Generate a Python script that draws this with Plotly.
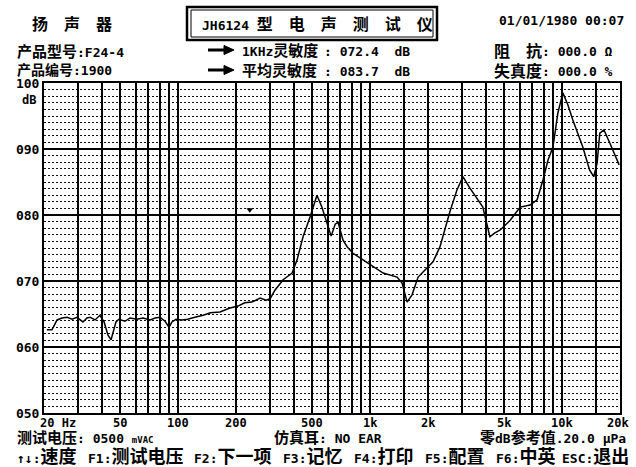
import numpy as np
import plotly.graph_objects as go

# ---------------- data ----------------
freq_hz = [20.7, 22.0, 23.4, 24.8, 26.4, 28.0, 29.7, 31.9, 33.5, 34.8, 36.9, 39.1, 41.1,
           43.1, 44.7, 45.8, 47.4, 49.1, 52.8, 56.1, 61, 65.6, 71.4, 75.8, 80.4, 85.4,
           89.6, 92.8, 97.4, 104.6, 112, 122, 135, 147, 165, 186, 205, 222, 242, 267,
           287, 301, 319, 352, 392, 416, 447, 486, 528, 560, 596, 626, 657, 680, 722,
           758, 814, 918, 1036, 1168, 1380, 1466, 1556, 1652, 1776, 1930, 2124, 2310,
           2600, 2830, 3040, 3300, 3590, 3860, 4200, 4460, 4740, 5360, 6040, 6800, 7400,
           7940, 8430, 8950, 9500, 10080, 10700, 11360, 12800, 13900, 14600, 15200,
           15700, 16500, 17700, 19800]
level_db = [62.6, 62.6, 64.1, 64.4, 64.5, 64.2, 64.5, 63.8, 64.4, 64.5, 64.1, 64.8, 63.8,
            61.8, 61.1, 62.3, 63.8, 64.2, 63.9, 64.4, 64.2, 64.4, 64.1, 64.4, 64.5, 63.9,
            63.0, 63.8, 64.2, 64.1, 64.2, 64.5, 64.8, 65.2, 65.3, 65.9, 66.2, 66.7, 66.8,
            67.4, 67.1, 67.3, 68.6, 70.2, 71.2, 73.2, 76.7, 79.7, 83.0, 81.2, 78.8, 76.8,
            78.6, 78.9, 76.2, 75.2, 74.2, 73.2, 72.1, 71.2, 70.6, 69.7, 66.8, 67.9, 70.6,
            71.7, 72.9, 75.2, 80.5, 83.8, 85.8, 84.1, 82.6, 81.2, 76.7, 77.3, 77.7, 79.2,
            81.2, 81.5, 82.3, 85.3, 88.3, 90.3, 95.5, 98.5, 96.7, 94.4, 90.3, 86.8, 85.8,
            87.9, 92.4, 92.9, 90.9, 87.6]

cursor_freq = [236]
cursor_db = [80.8]

grid_freqs = [30, 40, 50, 60, 70, 80, 90, 100, 200, 300, 400, 500, 600, 700, 800, 900,
              1000, 1500, 2000, 3000, 4000, 5000, 6000, 7000, 8000, 9000, 10000, 15000]
x_label_freqs = [20, 50, 100, 200, 500, 1000, 2000, 5000, 10000, 20000]
x_label_text = ["20 Hz", "50", "100", "200", "500", "1k", "2k", "5k", "10k", "20k"]
y_tick_vals = [50, 60, 70, 80, 90, 100]
y_tick_text = ["050", "060", "070", "080", "090", "100"]
y_minor_vals = [v for v in range(51, 100) if v % 10 != 0]

# ---------------- layout helpers ----------------
W, H = 636, 467
L, R, T, B = 44, 620, 83, 413
MONO = "DejaVu Sans Mono, Noto Sans CJK SC"


def px(x):
    return (x - L) / (R - L)


def py(y):
    return (B - y) / (B - T)


def cjk(s, size=16):
    return f"<span style='font-size:{size}px'>{s}</span>"


annotations = []


def ann(text, x, y, size=13, anchor="left"):
    annotations.append(dict(
        text=f"<b>{text}</b>", x=px(x), y=py(y), xref="paper", yref="paper",
        xanchor=anchor, yanchor="middle", showarrow=False,
        font=dict(family=MONO, size=size, color="black")))


# header
ann(cjk("扬　声　器", 16), 30, 24)
ann("JH6124 " + cjk("型　电　声　测　试　仪", 16), 200, 24)
ann("01/01/1980 00:07", 497, 21)
ann(cjk("产品型号", 15) + ":F24-4", 15, 52)
ann(cjk("产品编号", 14) + ":1900", 15, 70)
ann("1KHz" + cjk("灵敏度", 15), 240, 51)
ann(cjk("平均灵敏度", 15), 240, 71)
ann(": 072.4  dB", 322, 51)
ann(": 083.7  dB", 322, 71)
ann(cjk("阻　抗", 16), 492, 51)
ann(cjk("失真度", 16), 492, 71)
ann(": 000.0 Ω", 540, 51)
ann(": 000.0 %", 540, 71)
ann("dB", 38, 100, size=12, anchor="right")

# footer
ann(cjk("测试电压", 15) + ": 0500 <span style='font-size:9px'>mVAC</span>", 15, 438)
ann(cjk("仿真耳", 15) + ": NO EAR", 272, 438)
ann(cjk("零", 15) + "dB" + cjk("参考值", 15) + ".20.0 μPa", 478, 438)
footer_items = [("↑↓:", "速度", 15), ("F1:", "测试电压", 86), ("F2:", "下一项", 192),
                ("F3:", "记忆", 281), ("F4:", "打印", 352), ("F5:", "配置", 423),
                ("F6:", "中英", 494), ("ESC:", "退出", 560)]
for k, lab, xx in footer_items:
    ann(k + cjk(lab, 18), xx, 456)

# x tick labels (placed at their frequencies)
for i, (f, t) in enumerate(zip(x_label_freqs, x_label_text)):
    a = dict(text=f"<b>{t}</b>", x=np.log10(f), xref="x", y=py(423), yref="paper",
             showarrow=False, xanchor="center", yanchor="middle",
             font=dict(family=MONO, size=12, color="black"))
    if i == 0:
        a.update(xanchor="left", xshift=-6)
    if i == len(x_label_freqs) - 1:
        a.update(xanchor="right", xshift=11)
    annotations.append(a)

shapes = [
    dict(type="rect", xref="paper", yref="paper", x0=px(187), x1=px(437), y0=py(40), y1=py(7),
         line=dict(color="black", width=2.5)),
    dict(type="rect", xref="paper", yref="paper", x0=px(191), x1=px(433), y0=py(37), y1=py(10),
         line=dict(color="black", width=1)),
]
# header arrows (decorative pointers)
for ay in (50, 70):
    shapes.append(dict(type="line", xref="paper", yref="paper",
                       x0=px(208), x1=px(226), y0=py(ay), y1=py(ay),
                       line=dict(color="black", width=3)))
    shapes.append(dict(type="path", xref="paper", yref="paper",
                       path=f"M {px(224)},{py(ay - 4.5)} L {px(234)},{py(ay)} L {px(224)},{py(ay + 4.5)} Z",
                       fillcolor="black", line=dict(color="black", width=1)))

fig = go.Figure()
fig.add_trace(go.Scatter(x=freq_hz, y=level_db, mode="lines",
                         line=dict(color="black", width=1.5), hoverinfo="skip"))
fig.add_trace(go.Scatter(x=cursor_freq, y=cursor_db, mode="markers",
                         marker=dict(symbol="triangle-down", size=6, color="black"),
                         hoverinfo="skip"))

fig.update_layout(
    width=W, height=H,
    margin=dict(l=L, r=W - R, t=T, b=H - B, pad=0),
    paper_bgcolor="white", plot_bgcolor="white",
    showlegend=False,
    annotations=annotations,
    shapes=shapes,
    xaxis=dict(type="log", range=[np.log10(20), np.log10(20000)],
               tickmode="array", tickvals=grid_freqs, showticklabels=False, ticks="",
               showgrid=True, gridcolor="black", gridwidth=2,
               showline=True, mirror=True, linecolor="black", linewidth=2,
               zeroline=False, fixedrange=True),
    yaxis=dict(range=[50, 100], tickmode="array", tickvals=y_tick_vals,
               ticktext=y_tick_text, ticks="",
               tickfont=dict(family="DejaVu Sans Mono", size=13, color="black", weight="bold"),
               showgrid=True, gridcolor="black", gridwidth=2,
               minor=dict(tickmode="array", tickvals=y_minor_vals, showgrid=True,
                          gridcolor="#111111", gridwidth=1, griddash="2px,2px", ticks=""),
               showline=True, mirror=True, linecolor="black", linewidth=2,
               zeroline=False, fixedrange=True),
)

fig.write_html(
    "out.html",
    config={"displayModeBar": False},
    post_script="document.body.style.margin='0px';document.body.style.overflow='hidden';",
)
